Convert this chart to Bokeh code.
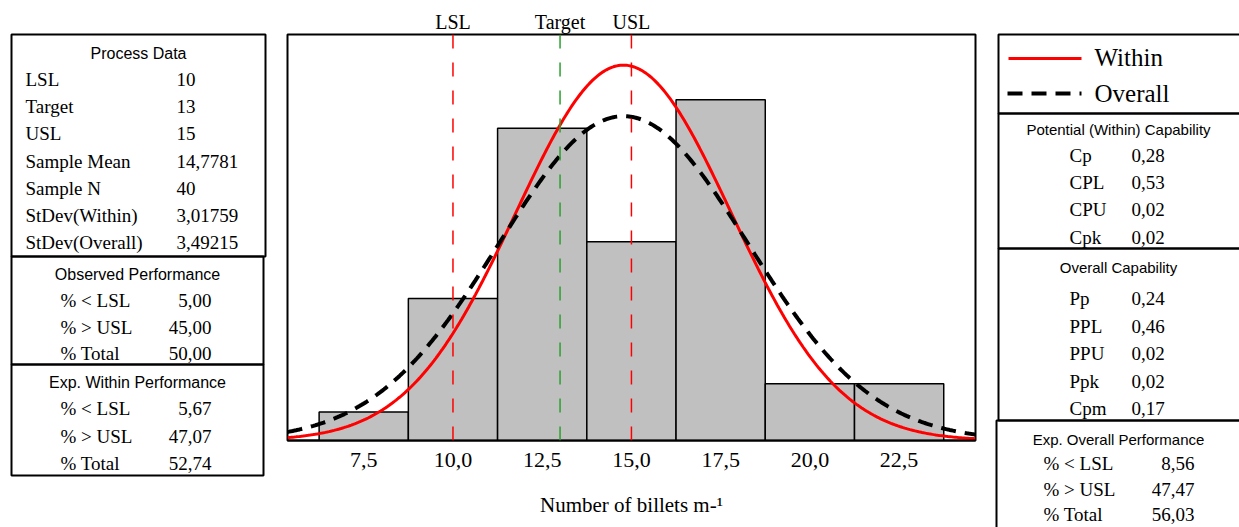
import numpy as np
from bokeh.plotting import figure
from bokeh.layouts import row
from bokeh.models import Range1d, FixedTicker, Span, LinearAxis
from bokeh.core.properties import value
from bokeh.embed import file_html
from bokeh.resources import INLINE

# ---------------- data ----------------
bin_centers = [7.5, 10.0, 12.5, 15.0, 17.5, 20.0, 22.5]
bin_counts = [1, 5, 11, 7, 12, 2, 2]
bin_width = 2.5
x_ticks = [7.5, 10.0, 12.5, 15.0, 17.5, 20.0, 22.5]
x_tick_labels = ["7,5", "10,0", "12,5", "15,0", "17,5", "20,0", "22,5"]
LSL, TARGET, USL = 10, 13, 15
spec_names = ["LSL", "Target", "USL"]
sample_mean = 14.7781
sample_n = 40
stdev_within = 3.01759
stdev_overall = 3.49215
x_label = "Number of billets m-\u00b9"

process_labels = ["LSL", "Target", "USL", "Sample Mean", "Sample N",
                  "StDev(Within)", "StDev(Overall)"]
process_values = ["10", "13", "15", "14,7781", "40", "3,01759", "3,49215"]
perf_labels = ["% < LSL", "% > USL", "% Total"]
obs_values = ["5,00", "45,00", "50,00"]
expw_values = ["5,67", "47,07", "52,74"]
expo_values = ["8,56", "47,47", "56,03"]
pot_labels = ["Cp", "CPL", "CPU", "Cpk"]
pot_values = ["0,28", "0,53", "0,02", "0,02"]
ovr_labels = ["Pp", "PPL", "PPU", "Ppk", "Cpm"]
ovr_values = ["0,24", "0,46", "0,02", "0,02", "0,17"]
legend_labels = ["Within", "Overall"]

SERIF = "Liberation Serif"
SANS = "Liberation Sans"
H = 527
FS = "19px"


def panel(w, x0):
    q = figure(width=w, height=H, x_range=Range1d(x0, x0 + w), y_range=Range1d(H, 0),
               output_backend="svg", toolbar_location=None,
               x_axis_location=None, y_axis_location=None,
               min_border=0, outline_line_color=None, frame_align=False)
    q.grid.grid_line_color = None
    return q


def txt(q, xs, ys, texts, font, size, align):
    q.text(x=xs, y=ys, text=texts, text_font=value(font), text_font_size=size,
           text_align=align, text_baseline="middle", text_color="black")


def box(q, l, r, t, b):
    q.quad(left=l, right=r, top=t, bottom=b, fill_color=None,
           line_color="black", line_width=2)


# ---------------- left panel ----------------
left = panel(280, 0)
box(left, 11, 265, 34, 256)
box(left, 11, 263, 256, 364)
box(left, 11, 263, 364, 475)
txt(left, [138], [53], ["Process Data"], SANS, "16px", "center")
ys = [79 + i * 27.2 for i in range(len(process_labels))]
txt(left, [25] * len(ys), ys, process_labels, SERIF, FS, "left")
txt(left, [176] * len(ys), ys, process_values, SERIF, FS, "left")
txt(left, [137], [274], ["Observed Performance"], SANS, "16px", "center")
ys = [300, 327, 353]
txt(left, [60] * 3, ys, perf_labels, SERIF, FS, "left")
txt(left, [211] * 3, ys, obs_values, SERIF, FS, "right")
txt(left, [137], [382], ["Exp. Within Performance"], SANS, "16px", "center")
ys = [408, 436, 463]
txt(left, [60] * 3, ys, perf_labels, SERIF, FS, "left")
txt(left, [211] * 3, ys, expw_values, SERIF, FS, "right")

# ---------------- main chart ----------------
x_lo, x_hi = 5.364, 24.64
y_hi = 14.3
p = figure(width=710, height=H, x_range=Range1d(x_lo, x_hi), y_range=Range1d(0, y_hi),
           output_backend="svg", toolbar_location=None, y_axis_location=None,
           min_border_left=7, min_border_right=15, min_border_top=34, min_border_bottom=87,
           outline_line_color="black", outline_line_width=2, frame_align=False)
p.grid.grid_line_color = None

p.vbar(x=bin_centers, top=bin_counts, width=bin_width, bottom=0,
       fill_color="#c0c0c0", line_color="black", line_width=1.5)

xs = np.linspace(x_lo, x_hi, 400)
scale = sample_n * bin_width
y_within = scale * np.exp(-0.5 * ((xs - sample_mean) / stdev_within) ** 2) / (stdev_within * np.sqrt(2 * np.pi))
y_overall = scale * np.exp(-0.5 * ((xs - sample_mean) / stdev_overall) ** 2) / (stdev_overall * np.sqrt(2 * np.pi))

for loc, col in zip([LSL, TARGET, USL], ["red", "#2ca02c", "red"]):
    p.add_layout(Span(location=loc, dimension="height", line_color=col,
                      line_dash="14 14", line_width=1.5))

p.line(xs, y_within, line_color="red", line_width=3)
p.line(xs, y_overall, line_color="black", line_width=4, line_dash="15 9")

xa = p.xaxis[0]
xa.ticker = FixedTicker(ticks=x_ticks)
xa.major_label_overrides = dict(zip(x_ticks, x_tick_labels))
xa.major_tick_line_color = None
xa.major_tick_out = 0
xa.minor_tick_line_color = None
xa.minor_tick_out = 0
xa.axis_line_width = 2
xa.axis_line_color = "black"
xa.major_label_text_font = SERIF
xa.major_label_text_font_size = "22px"
xa.major_label_text_color = "black"
xa.major_label_standoff = 12
xa.axis_label = x_label
xa.axis_label_text_font = SERIF
xa.axis_label_text_font_style = "normal"
xa.axis_label_text_font_size = "21px"
xa.axis_label_text_color = "black"
xa.axis_label_standoff = 23

top = LinearAxis(ticker=FixedTicker(ticks=[LSL, TARGET, USL]),
                 major_label_overrides=dict(zip([LSL, TARGET, USL], spec_names)),
                 axis_line_color=None, major_tick_line_color=None, minor_tick_line_color=None,
                 major_tick_out=0, minor_tick_out=0,
                 major_label_text_font=SERIF, major_label_text_font_size="20px",
                 major_label_text_color="black", major_label_standoff=2)
p.add_layout(top, "above")

# ---------------- right panel ----------------
right = panel(249, 990)
box(right, 998, 1250, 34, 113)
box(right, 998, 1250, 113, 248)
box(right, 998, 1250, 248, 420)
box(right, 996, 1250, 420, 560)
right.line([1008, 1081], [58, 58], line_color="red", line_width=3)
right.line([1007, 1081], [93, 93], line_color="black", line_width=4, line_dash="15 9")
txt(right, [1094, 1094], [57, 93], legend_labels, SERIF, "25px", "left")
txt(right, [1118], [129], ["Potential (Within) Capability"], SANS, "15px", "center")
ys = [155, 182, 209, 237]
txt(right, [1069] * 4, ys, pot_labels, SERIF, FS, "left")
txt(right, [1131] * 4, ys, pot_values, SERIF, FS, "left")
txt(right, [1118], [267], ["Overall Capability"], SANS, "15px", "center")
ys = [298, 326, 353, 381, 408]
txt(right, [1069] * 5, ys, ovr_labels, SERIF, FS, "left")
txt(right, [1131] * 5, ys, ovr_values, SERIF, FS, "left")
txt(right, [1118], [439], ["Exp. Overall Performance"], SANS, "15px", "center")
ys = [463, 489, 514]
txt(right, [1043] * 3, ys, perf_labels, SERIF, FS, "left")
txt(right, [1194] * 3, ys, expo_values, SERIF, FS, "right")

layout = row(left, p, right, spacing=0)
open("out.html", "w").write(file_html(layout, INLINE))
